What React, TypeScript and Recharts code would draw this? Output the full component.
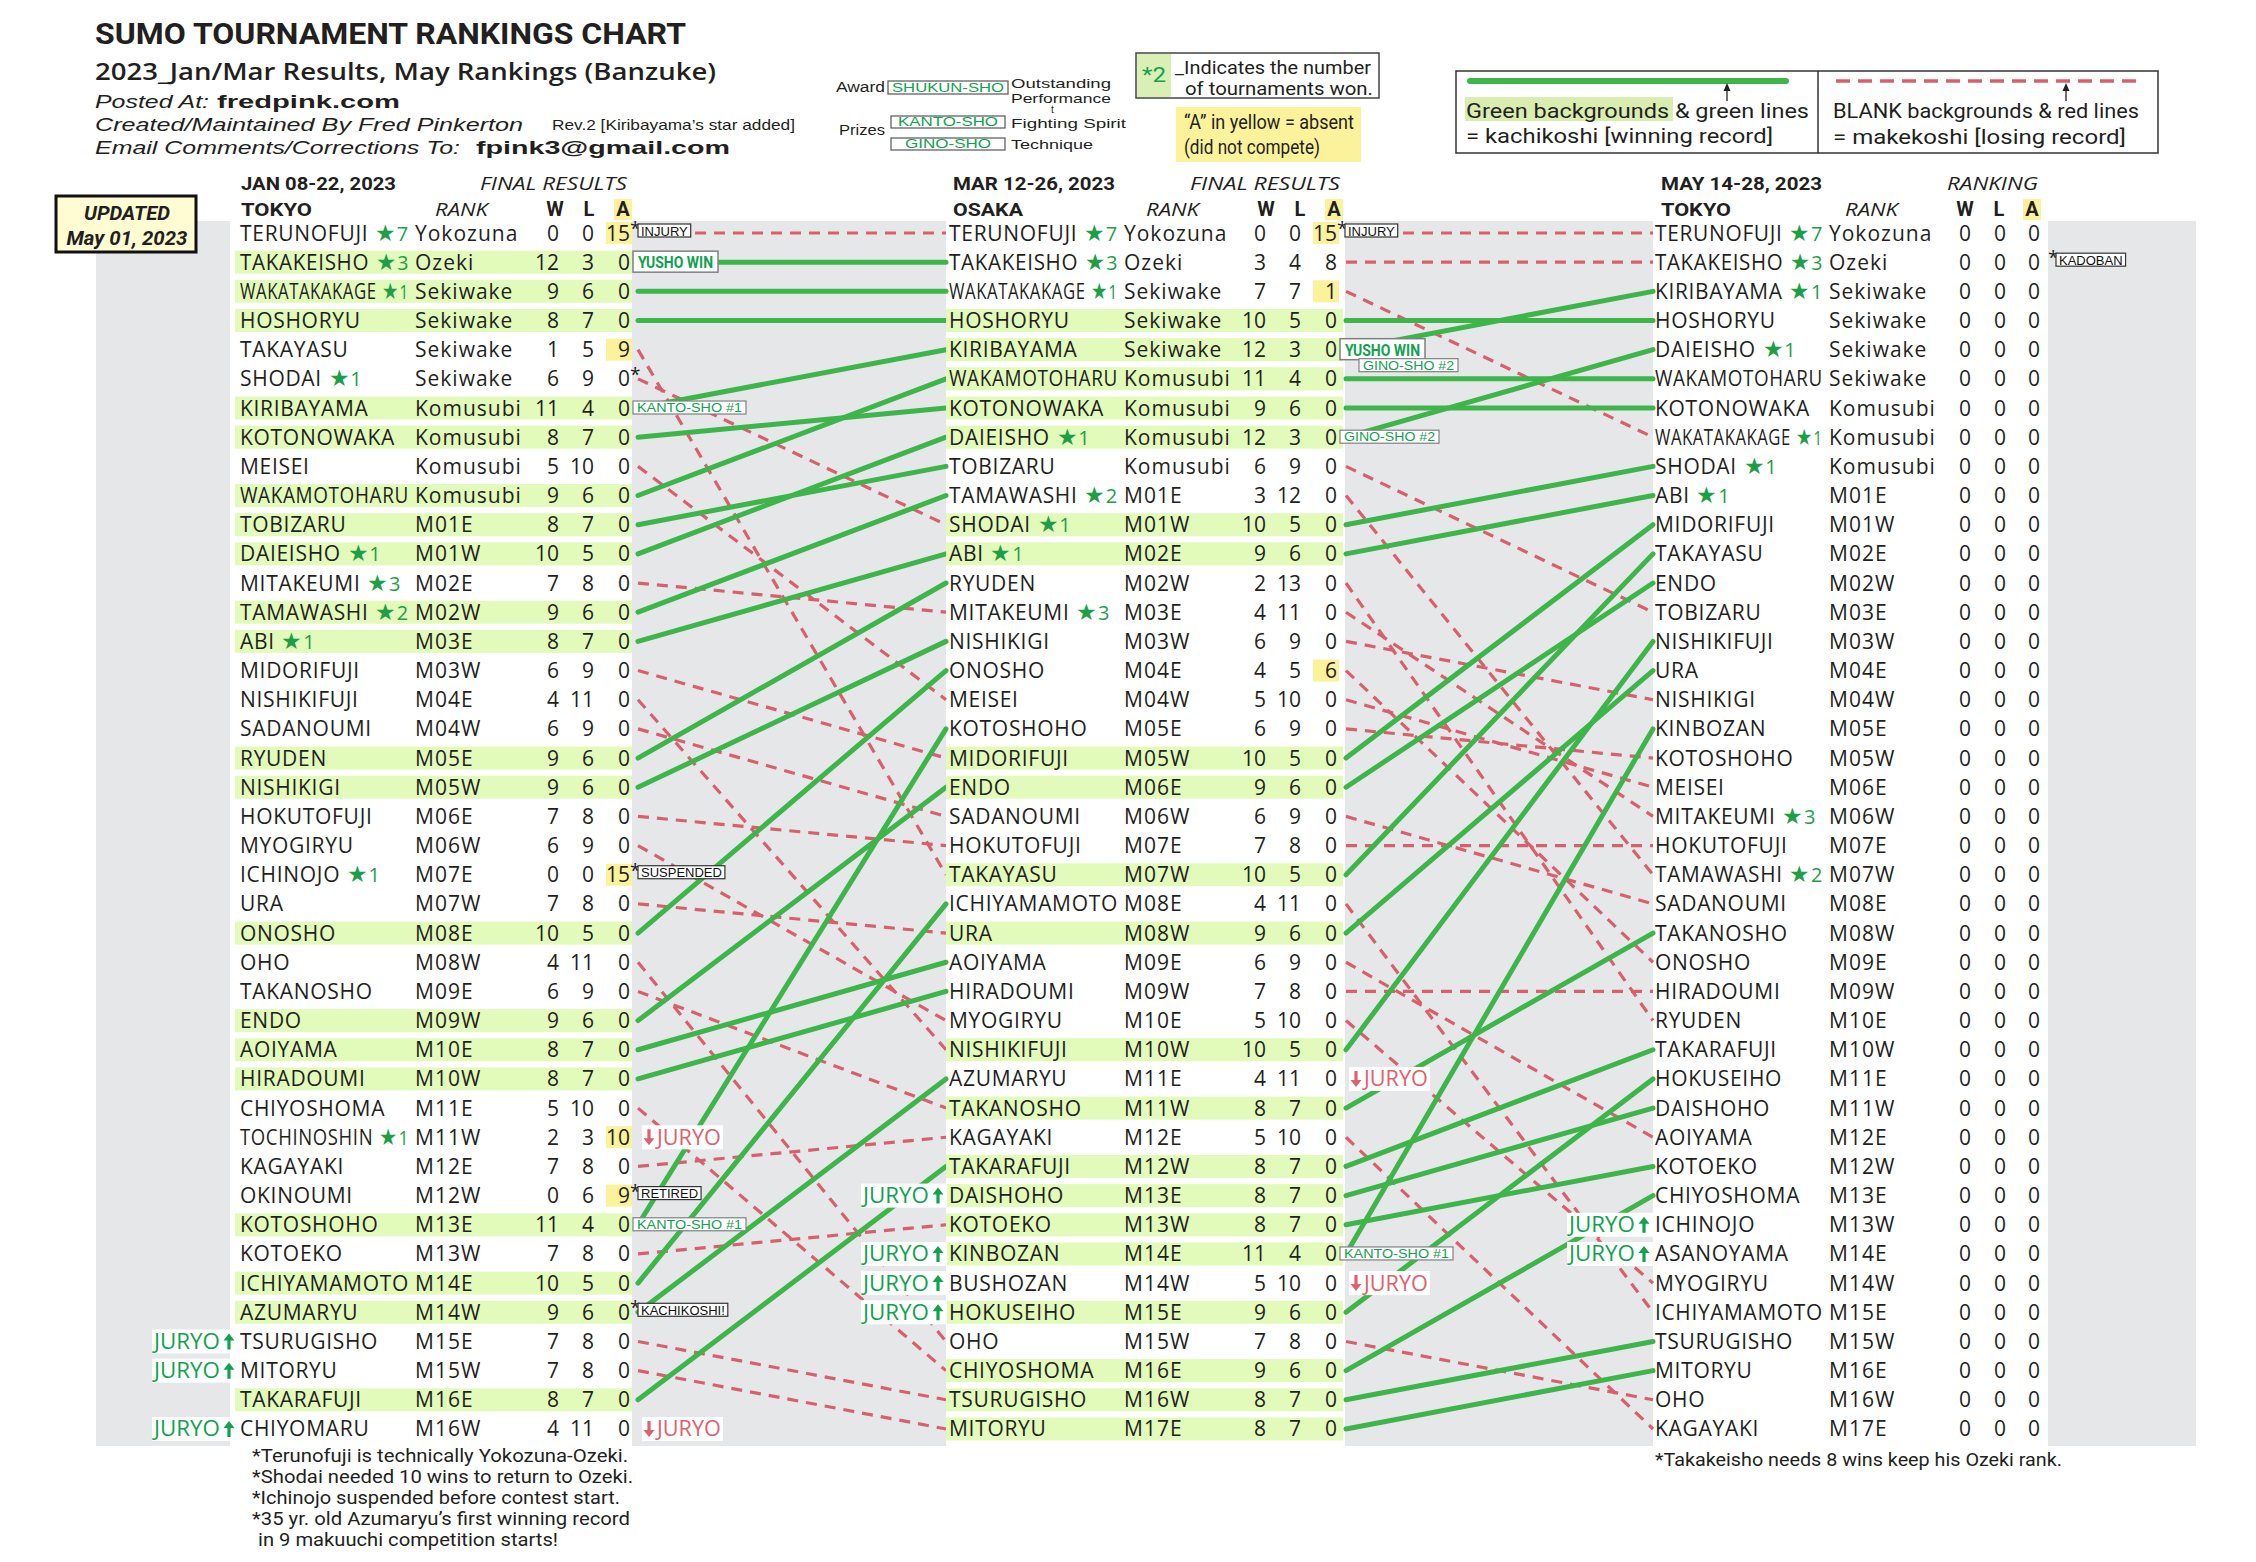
import React from "react";
import { ComposedChart, XAxis, YAxis, Line, Scatter } from "recharts";

const CHART_W = 2256;
const CHART_H = 1562;

// ---- JAN 08-22, 2023 (Tokyo) final results ----
const janNames = [
  "TERUNOFUJI", "TAKAKEISHO", "WAKATAKAKAGE", "HOSHORYU", "TAKAYASU", "SHODAI", "KIRIBAYAMA",
  "KOTONOWAKA", "MEISEI", "WAKAMOTOHARU", "TOBIZARU", "DAIEISHO", "MITAKEUMI", "TAMAWASHI",
  "ABI", "MIDORIFUJI", "NISHIKIFUJI", "SADANOUMI", "RYUDEN", "NISHIKIGI", "HOKUTOFUJI",
  "MYOGIRYU", "ICHINOJO", "URA", "ONOSHO", "OHO", "TAKANOSHO", "ENDO", "AOIYAMA", "HIRADOUMI",
  "CHIYOSHOMA", "TOCHINOSHIN", "KAGAYAKI", "OKINOUMI", "KOTOSHOHO", "KOTOEKO", "ICHIYAMAMOTO",
  "AZUMARYU", "TSURUGISHO", "MITORYU", "TAKARAFUJI", "CHIYOMARU",
];
const janRanks = [
  "Yokozuna", "Ozeki", "Sekiwake", "Sekiwake", "Sekiwake", "Sekiwake", "Komusubi", "Komusubi",
  "Komusubi", "Komusubi", "M01E", "M01W", "M02E", "M02W", "M03E", "M03W", "M04E", "M04W", "M05E",
  "M05W", "M06E", "M06W", "M07E", "M07W", "M08E", "M08W", "M09E", "M09W", "M10E", "M10W", "M11E",
  "M11W", "M12E", "M12W", "M13E", "M13W", "M14E", "M14W", "M15E", "M15W", "M16E", "M16W",
];
const janWins = [0, 12, 9, 8, 1, 6, 11, 8, 5, 9, 8, 10, 7, 9, 8, 6, 4, 6, 9, 9, 7, 6, 0, 7, 10, 4, 6, 9, 8, 8, 5, 2, 7, 0, 11, 7, 10, 9, 7, 7, 8, 4];
const janLosses = [0, 3, 6, 7, 5, 9, 4, 7, 10, 6, 7, 5, 8, 6, 7, 9, 11, 9, 6, 6, 8, 9, 0, 8, 5, 11, 9, 6, 7, 7, 10, 3, 8, 6, 4, 8, 5, 6, 8, 8, 7, 11];
const janAbsent = [15, 0, 0, 0, 9, 0, 0, 0, 0, 0, 0, 0, 0, 0, 0, 0, 0, 0, 0, 0, 0, 0, 15, 0, 0, 0, 0, 0, 0, 0, 0, 10, 0, 9, 0, 0, 0, 0, 0, 0, 0, 0];
const janStars: Record<string, number> = { TERUNOFUJI: 7, TAKAKEISHO: 3, WAKATAKAKAGE: 1, SHODAI: 1, DAIEISHO: 1, MITAKEUMI: 3, TAMAWASHI: 2, ABI: 1, ICHINOJO: 1, TOCHINOSHIN: 1 };
const janYellow = ["TERUNOFUJI", "TAKAYASU", "ICHINOJO", "TOCHINOSHIN", "OKINOUMI"];
const janAsterisk = ["TERUNOFUJI", "SHODAI", "ICHINOJO", "OKINOUMI", "AZUMARYU"];
const janTags: Record<string, string[]> = {
  TERUNOFUJI: ["INJURY"], TAKAKEISHO: ["YUSHO WIN"], KIRIBAYAMA: ["KANTO-SHO #1"], ICHINOJO: ["SUSPENDED"],
  TOCHINOSHIN: ["DOWN"], OKINOUMI: ["RETIRED"], KOTOSHOHO: ["KANTO-SHO #1"], AZUMARYU: ["KACHIKOSHI!"], CHIYOMARU: ["DOWN"],
};
const janUp = ["TSURUGISHO", "MITORYU", "CHIYOMARU"];

// ---- MAR 12-26, 2023 (Osaka) final results ----
const marNames = [
  "TERUNOFUJI", "TAKAKEISHO", "WAKATAKAKAGE", "HOSHORYU", "KIRIBAYAMA", "WAKAMOTOHARU", "KOTONOWAKA",
  "DAIEISHO", "TOBIZARU", "TAMAWASHI", "SHODAI", "ABI", "RYUDEN", "MITAKEUMI", "NISHIKIGI", "ONOSHO",
  "MEISEI", "KOTOSHOHO", "MIDORIFUJI", "ENDO", "SADANOUMI", "HOKUTOFUJI", "TAKAYASU", "ICHIYAMAMOTO",
  "URA", "AOIYAMA", "HIRADOUMI", "MYOGIRYU", "NISHIKIFUJI", "AZUMARYU", "TAKANOSHO", "KAGAYAKI",
  "TAKARAFUJI", "DAISHOHO", "KOTOEKO", "KINBOZAN", "BUSHOZAN", "HOKUSEIHO", "OHO", "CHIYOSHOMA",
  "TSURUGISHO", "MITORYU",
];
const marRanks = [
  "Yokozuna", "Ozeki", "Sekiwake", "Sekiwake", "Sekiwake", "Komusubi", "Komusubi", "Komusubi", "Komusubi",
  "M01E", "M01W", "M02E", "M02W", "M03E", "M03W", "M04E", "M04W", "M05E", "M05W", "M06E", "M06W", "M07E",
  "M07W", "M08E", "M08W", "M09E", "M09W", "M10E", "M10W", "M11E", "M11W", "M12E", "M12W", "M13E", "M13W",
  "M14E", "M14W", "M15E", "M15W", "M16E", "M16W", "M17E",
];
const marWins = [0, 3, 7, 10, 12, 11, 9, 12, 6, 3, 10, 9, 2, 4, 6, 4, 5, 6, 10, 9, 6, 7, 10, 4, 9, 6, 7, 5, 10, 4, 8, 5, 8, 8, 8, 11, 5, 9, 7, 9, 8, 8];
const marLosses = [0, 4, 7, 5, 3, 4, 6, 3, 9, 12, 5, 6, 13, 11, 9, 5, 10, 9, 5, 6, 9, 8, 5, 11, 6, 9, 8, 10, 5, 11, 7, 10, 7, 7, 7, 4, 10, 6, 8, 6, 7, 7];
const marAbsent = [15, 8, 1, 0, 0, 0, 0, 0, 0, 0, 0, 0, 0, 0, 0, 6, 0, 0, 0, 0, 0, 0, 0, 0, 0, 0, 0, 0, 0, 0, 0, 0, 0, 0, 0, 0, 0, 0, 0, 0, 0, 0];
const marStars: Record<string, number> = { TERUNOFUJI: 7, TAKAKEISHO: 3, WAKATAKAKAGE: 1, DAIEISHO: 1, TAMAWASHI: 2, SHODAI: 1, ABI: 1, MITAKEUMI: 3 };
const marYellow = ["TERUNOFUJI", "WAKATAKAKAGE", "ONOSHO"];
const marAsterisk = ["TERUNOFUJI"];
const marTags: Record<string, string[]> = {
  TERUNOFUJI: ["INJURY"], KIRIBAYAMA: ["YUSHO WIN", "GINO-SHO #2"], DAIEISHO: ["GINO-SHO #2"],
  AZUMARYU: ["DOWN"], KINBOZAN: ["KANTO-SHO #1"], BUSHOZAN: ["DOWN"],
};
const marUp = ["DAISHOHO", "KINBOZAN", "BUSHOZAN", "HOKUSEIHO"];

// ---- MAY 14-28, 2023 (Tokyo) ranking ----
const mayNames = [
  "TERUNOFUJI", "TAKAKEISHO", "KIRIBAYAMA", "HOSHORYU", "DAIEISHO", "WAKAMOTOHARU", "KOTONOWAKA",
  "WAKATAKAKAGE", "SHODAI", "ABI", "MIDORIFUJI", "TAKAYASU", "ENDO", "TOBIZARU", "NISHIKIFUJI", "URA",
  "NISHIKIGI", "KINBOZAN", "KOTOSHOHO", "MEISEI", "MITAKEUMI", "HOKUTOFUJI", "TAMAWASHI", "SADANOUMI",
  "TAKANOSHO", "ONOSHO", "HIRADOUMI", "RYUDEN", "TAKARAFUJI", "HOKUSEIHO", "DAISHOHO", "AOIYAMA",
  "KOTOEKO", "CHIYOSHOMA", "ICHINOJO", "ASANOYAMA", "MYOGIRYU", "ICHIYAMAMOTO", "TSURUGISHO", "MITORYU",
  "OHO", "KAGAYAKI",
];
const mayRanks = [
  "Yokozuna", "Ozeki", "Sekiwake", "Sekiwake", "Sekiwake", "Sekiwake", "Komusubi", "Komusubi", "Komusubi",
  "M01E", "M01W", "M02E", "M02W", "M03E", "M03W", "M04E", "M04W", "M05E", "M05W", "M06E", "M06W", "M07E",
  "M07W", "M08E", "M08W", "M09E", "M09W", "M10E", "M10W", "M11E", "M11W", "M12E", "M12W", "M13E", "M13W",
  "M14E", "M14W", "M15E", "M15W", "M16E", "M16W", "M17E",
];
const mayWins = mayNames.map(() => 0);
const mayLosses = mayNames.map(() => 0);
const mayAbsent = mayNames.map(() => 0);
const mayStars: Record<string, number> = { TERUNOFUJI: 7, TAKAKEISHO: 3, KIRIBAYAMA: 1, DAIEISHO: 1, WAKATAKAKAGE: 1, SHODAI: 1, ABI: 1, MITAKEUMI: 3, TAMAWASHI: 2 };
const mayAsterisk = ["TAKAKEISHO"];
const mayTags: Record<string, string[]> = { TAKAKEISHO: ["KADOBAN"] };
const mayUp = ["ICHINOJO", "ASANOYAMA"];

const janNotes = [
  "*Terunofuji is technically Yokozuna-Ozeki.",
  "*Shodai needed 10 wins to return to Ozeki.",
  "*Ichinojo suspended before contest start.",
  "*35 yr. old Azumaryu’s first winning record",
  " in 9 makuuchi competition starts!",
];
const mayNote = "*Takakeisho needs 8 wins keep his Ozeki rank.";

// ---- styling / layout ----
const SANS = "'Open Sans', sans-serif";
const COND = "Roboto, sans-serif";
const LIB = "'Liberation Sans', Arial, sans-serif";
const TEXT = "#231f20";
const GREY = "#e6e7e8";
const BAND = "#e2fbbb";
const YELLOW = "#fdf29c";
const GREEN_LINE = "#3db54a";
const RED_LINE = "#d7606c";
const STAR = "#1f9e48";
const TAG_GREEN = "#12a150";
const RED_TEXT = "#e0606e";

const ROW_TOP = 233;
const ROW_H = 29.17;
const Y_DOMAIN: [number, number] = [1 - ROW_TOP / ROW_H, 1 - ROW_TOP / ROW_H + CHART_H / ROW_H];

type ColKey = "jan" | "mar" | "may";
const COLS: Record<ColKey, any> = {
  jan: { left: 230, right: 632, bandL: 235, bandR: 632, nameX: 240, rankX: 415, wEnd: 559, lEnd: 594, aEnd: 630, lineStart: 638 },
  mar: { left: 946, right: 1345, bandL: 946, bandR: 1343, nameX: 949, rankX: 1124, wEnd: 1266, lEnd: 1301, aEnd: 1337, lineStart: 1346 },
  may: { left: 1653, right: 2048, bandL: 1653, bandR: 2048, nameX: 1655, rankX: 1829, wEnd: 1971, lEnd: 2006, aEnd: 2040, lineStart: 0 },
};

const NAME_FS = 21;
const NAME_LS = 0.7;
const STAR_FS = 23;
const DIGIT_FS = 20;

// real text widths, measured with a canvas using the same installed font
let measureCtx: CanvasRenderingContext2D | null = null;
function measure(text: string, fs: number, family = SANS) {
  if (!measureCtx) measureCtx = document.createElement("canvas").getContext("2d");
  if (!measureCtx) return text.length * fs * 0.6;
  measureCtx.font = `${fs}px ${family}`;
  return measureCtx.measureText(text).width;
}

function buildRows(key: ColKey, names: string[], ranks: string[], wins: number[], losses: number[], absent: number[],
  stars: Record<string, number>, yellow: string[], asterisk: string[], tags: Record<string, string[]>, up: string[]) {
  return names.map((name, i) => ({
    x: COLS[key].nameX,
    y: i + 1,
    name,
    rank: ranks[i],
    w: wins[i],
    l: losses[i],
    a: absent[i],
    star: stars[name] || 0,
    green: wins[i] >= 8,
    yellow: yellow.includes(name),
    asterisk: asterisk.includes(name),
    tags: tags[name] || [],
    up: up.includes(name),
  }));
}

const janRows = buildRows("jan", janNames, janRanks, janWins, janLosses, janAbsent, janStars, janYellow, janAsterisk, janTags, janUp);
const marRows = buildRows("mar", marNames, marRanks, marWins, marLosses, marAbsent, marStars, marYellow, marAsterisk, marTags, marUp);
const mayRows = buildRows("may", mayNames, mayRanks, mayWins, mayLosses, mayAbsent, mayStars, [], mayAsterisk, mayTags, mayUp);

function buildLinks(fromKey: ColKey, fromNames: string[], fromWins: number[], toKey: ColKey, toNames: string[]) {
  const out: { id: string; win: boolean; pts: { x: number; y: number }[] }[] = [];
  fromNames.forEach((n, i) => {
    const j = toNames.indexOf(n);
    if (j < 0) return;
    out.push({
      id: `${fromKey}-${n}`,
      win: fromWins[i] >= 8,
      pts: [{ x: COLS[fromKey].lineStart, y: i + 1 }, { x: COLS[toKey].left, y: j + 1 }],
    });
  });
  return out;
}

const links = [
  ...buildLinks("jan", janNames, janWins, "mar", marNames),
  ...buildLinks("mar", marNames, marWins, "may", mayNames),
];

// bold arrow glyph drawn as a path (up or down), centred on (x, cy)
const Arrow = ({ x, cy, dir, color }: any) => {
  const s = dir === "up" ? -1 : 1;
  const tip = cy + s * 8;
  const base = cy - s * 8;
  const shoulder = cy + s * 1;
  return (
    <path
      d={`M${x - 1.6},${base} L${x + 1.6},${base} L${x + 1.6},${shoulder} L${x + 5.5},${shoulder} L${x},${tip} L${x - 5.5},${shoulder} L${x - 1.6},${shoulder} Z`}
      fill={color}
    />
  );
};

function renderTag(t: string, k: number, X: (v: number) => number, c: any, cy: number, boxX: number) {
  const a = X(c.aEnd);
  if (t === "YUSHO WIN") {
    return (
      <g key={t}>
        <rect x={a + 3} y={cy - 11} width={85} height={21} fill="#fff" stroke="#808080" strokeWidth={1.5} />
        <text x={a + 8} y={cy + 6} fontFamily={COND} fontWeight={700} fontSize={17} fill={TAG_GREEN} textLength={75} lengthAdjust="spacingAndGlyphs">{t}</text>
      </g>
    );
  }
  if (t.startsWith("KANTO") || t.startsWith("GINO")) {
    const w = t.startsWith("KANTO") ? 113 : 99;
    const x = k === 0 ? a + 3 : a + 22;
    const y = k === 0 ? cy - 7 : cy + 9;
    return (
      <g key={t}>
        <rect x={x} y={y} width={w} height={13} fill="#fff" stroke="#808080" strokeWidth={1.2} />
        <text x={x + 4} y={y + 11} fontFamily={LIB} fontSize={12} fill={TAG_GREEN} textLength={w - 8} lengthAdjust="spacingAndGlyphs">{t}</text>
      </g>
    );
  }
  if (t === "DOWN") {
    return (
      <g key={t}>
        <rect x={a + 12} y={cy - 12} width={81} height={24} fill="#fff" />
        <Arrow x={a + 19} cy={cy} dir="down" color={RED_TEXT} />
        <text x={a + 27} y={cy + 7.5} fontFamily={SANS} fontSize={21} fill={RED_TEXT} textLength={64} lengthAdjust="spacingAndGlyphs">JURYO</text>
      </g>
    );
  }
  const w = measure(t, 13, LIB) + 6;
  return (
    <g key={t}>
      <rect x={boxX} y={cy - 9} width={w} height={13} fill="#fff" stroke="#333" strokeWidth={1.2} />
      <text x={boxX + 3} y={cy + 2.5} fontFamily={LIB} fontSize={13} fill="#111">{t}</text>
    </g>
  );
}

const rowShape = (key: ColKey) => (props: any) => {
  const { cx, cy } = props;
  const r = props.payload ?? props;
  const c = COLS[key];
  const X = (v: number) => cx + (v - c.nameX);
  const limit = c.rankX - c.nameX - 6;
  const digits = r.star ? String(r.star) : "";
  const natural = measure(r.name, NAME_FS) + NAME_LS * r.name.length
    + (r.star ? measure(" \u2605", STAR_FS) + measure(digits, DIGIT_FS) + NAME_LS * 3 : 0);
  // long names are condensed horizontally, as in the original sheet
  const k = natural > limit ? limit / natural : 1;
  const astX = X(c.aEnd) + (key === "may" ? 8 : 0);
  const boxX = r.asterisk ? astX + 8 : X(c.aEnd) + 7;
  return (
    <g>
      {r.green && <rect x={X(c.bandL)} y={cy - 11.5} width={c.bandR - c.bandL} height={23} fill={BAND} />}
      {r.yellow && <rect x={X(c.aEnd) - 24} y={cy - 11} width={26} height={22} fill={YELLOW} />}
      {r.up && (
        <g>
          <rect x={X(c.nameX) - 88} y={cy - 12} width={86} height={24} fill="#fff" />
          <text x={X(c.nameX) - 86} y={cy + 7.5} fontFamily={SANS} fontSize={21} fill={TAG_GREEN} textLength={66} lengthAdjust="spacingAndGlyphs">JURYO</text>
          <Arrow x={X(c.nameX) - 11} cy={cy} dir="up" color={TAG_GREEN} />
        </g>
      )}
      <text transform={`translate(${X(c.nameX)},${cy + 7.5}) scale(${k},1)`} fontFamily={SANS} fontSize={NAME_FS} letterSpacing={NAME_LS} fill={TEXT}>
        {r.name}
        {r.star ? (
          <tspan fill={STAR}>
            <tspan fontSize={STAR_FS}>{" \u2605"}</tspan>
            <tspan fontSize={DIGIT_FS}>{digits}</tspan>
          </tspan>
        ) : null}
      </text>
      <text x={X(c.rankX)} y={cy + 7.5} fontFamily={SANS} fontSize={21} letterSpacing={1} fill={TEXT}>{r.rank}</text>
      <text x={X(c.wEnd)} y={cy + 7.5} fontFamily={SANS} fontSize={21} textAnchor="end" fill={TEXT}>{r.w}</text>
      <text x={X(c.lEnd)} y={cy + 7.5} fontFamily={SANS} fontSize={21} textAnchor="end" fill={TEXT}>{r.l}</text>
      <text x={X(c.aEnd)} y={cy + 7.5} fontFamily={SANS} fontSize={21} textAnchor="end" fill={TEXT}>{r.a}</text>
      {r.asterisk && <text x={astX} y={cy + 2} fontFamily={SANS} fontSize={19} fill={TEXT}>*</text>}
      {r.tags.map((t: string, i: number) => renderTag(t, i, X, c, cy, boxX))}
    </g>
  );
};

const T = (p: any) => {
  const { children, w, ...rest } = p;
  return (
    <text fill={TEXT} fontFamily={SANS} {...(w ? { textLength: w, lengthAdjust: "spacingAndGlyphs" } : {})} {...rest}>
      {children}
    </text>
  );
};

const ColHeader = ({ x, title, sub, subX, subW, city, cityW, titleW, rankX, w, l, a }: any) => (
  <g>
    <T x={x} y={190} fontFamily={COND} fontWeight={700} fontSize={19} w={titleW}>{title}</T>
    <T x={subX} y={190} fontStyle="italic" fontSize={18} w={subW}>{sub}</T>
    <T x={x} y={216} fontFamily={COND} fontWeight={700} fontSize={19} w={cityW}>{city}</T>
    <T x={rankX} y={216} fontStyle="italic" fontSize={18} w={53}>RANK</T>
    <T x={w} y={216} fontFamily={COND} fontWeight={700} fontSize={20} textAnchor="middle">W</T>
    <T x={l} y={216} fontFamily={COND} fontWeight={700} fontSize={20} textAnchor="middle">L</T>
    <rect x={a - 9} y={199} width={18} height={21} fill={YELLOW} />
    <T x={a} y={216} fontFamily={COND} fontWeight={700} fontSize={20} textAnchor="middle">A</T>
  </g>
);

const Backdrop = () => (
  <svg width={CHART_W} height={CHART_H} style={{ position: "absolute", left: 0, top: 0 }}>
    <rect x={96} y={221} width={2100} height={1225} fill={GREY} />
    <rect x={230} y={221} width={402} height={1225} fill="#fff" />
    <rect x={946} y={221} width={399} height={1225} fill="#fff" />
    <rect x={1653} y={221} width={395} height={1225} fill="#fff" />

    <T x={95} y={44} fontFamily={COND} fontWeight={700} fontSize={29} w={591}>SUMO TOURNAMENT RANKINGS CHART</T>
    <T x={95} y={80} fontWeight={600} fontSize={23} w={621}>2023_Jan/Mar Results, May Rankings (Banzuke)</T>
    <T x={95} y={108} fontFamily={LIB} fontStyle="italic" fontSize={19} w={114}>Posted At:</T>
    <T x={217} y={108} fontFamily={LIB} fontWeight={700} fontSize={19} w={183}>fredpink.com</T>
    <T x={95} y={131} fontFamily={LIB} fontStyle="italic" fontSize={19} w={428}>Created/Maintained By Fred Pinkerton</T>
    <T x={552} y={130} fontFamily={LIB} fontSize={15} w={243}>Rev.2 [Kiribayama’s star  added]</T>
    <T x={95} y={154} fontFamily={LIB} fontStyle="italic" fontSize={19} w={365}>Email Comments/Corrections To:</T>
    <T x={476} y={154} fontFamily={LIB} fontWeight={700} fontSize={19} w={254}>fpink3@gmail.com</T>

    <T x={836} y={92} fontFamily={LIB} fontSize={14} w={49}>Award</T>
    <rect x={888} y={81} width={120} height={13} fill="#fff" stroke="#555" strokeWidth={1.2} />
    <T x={892} y={92} fontFamily={LIB} fontSize={12} fill={TAG_GREEN} w={112}>SHUKUN-SHO</T>
    <T x={1011} y={88} fontFamily={LIB} fontSize={13} w={100}>Outstanding</T>
    <T x={1011} y={103} fontFamily={LIB} fontSize={13} w={100}>Performance</T>
    <T x={839} y={135} fontFamily={LIB} fontSize={14} w={46}>Prizes</T>
    <rect x={891} y={116} width={114} height={12} fill="#fff" stroke="#555" strokeWidth={1.2} />
    <T x={898} y={126} fontFamily={LIB} fontSize={12} fill={TAG_GREEN} w={100}>KANTO-SHO</T>
    <T x={1051} y={113} fontFamily={LIB} fontSize={10}>t</T>
    <T x={1011} y={128} fontFamily={LIB} fontSize={13} w={115}>Fighting Spirit</T>
    <rect x={891} y={138} width={114} height={12} fill="#fff" stroke="#555" strokeWidth={1.2} />
    <T x={905} y={148} fontFamily={LIB} fontSize={12} fill={TAG_GREEN} w={86}>GINO-SHO</T>
    <T x={1011} y={149} fontFamily={LIB} fontSize={13} w={82}>Technique</T>

    <rect x={1136} y={53} width={243} height={45} fill="#fff" stroke="#444" strokeWidth={1.5} />
    <rect x={1137} y={54} width={34} height={43} fill="#d9efb3" />
    <T x={1142} y={82} fontFamily={COND} fontSize={21} fill={TAG_GREEN} w={24}>*2</T>
    <T x={1175} y={74} fontFamily={COND} fontSize={18} w={196}>_Indicates the number</T>
    <T x={1185} y={95} fontFamily={COND} fontSize={18} w={188}>of tournaments won.</T>
    <rect x={1176} y={107} width={185} height={55} fill={YELLOW} />
    <T x={1184} y={129} fontFamily={COND} fontSize={20} w={170}>“A” in yellow = absent</T>
    <T x={1184} y={154} fontFamily={COND} fontSize={20} w={136}>(did not compete)</T>

    <rect x={1456} y={71} width={702} height={82} fill="#fff" stroke="#333" strokeWidth={1.5} />
    <line x1={1818} y1={71} x2={1818} y2={153} stroke="#333" strokeWidth={1.5} />
    <line x1={1470} y1={81} x2={1786} y2={81} stroke={GREEN_LINE} strokeWidth={6} strokeLinecap="round" />
    <line x1={1727} y1={101} x2={1727} y2={88} stroke="#222" strokeWidth={1.3} />
    <polygon points="1727,83 1723.5,91 1730.5,91" fill="#222" />
    <rect x={1465} y={97} width={208} height={24} fill="#d9edb0" />
    <T x={1466} y={118} fontFamily={COND} fontSize={21} w={343}>Green backgrounds &amp; green lines</T>
    <T x={1466} y={143} fontFamily={COND} fontSize={21} w={307}>= kachikoshi [winning record]</T>
    <line x1={1836} y1={81} x2={2142} y2={81} stroke={RED_LINE} strokeWidth={3.5} strokeDasharray="14 8" />
    <line x1={2066} y1={101} x2={2066} y2={88} stroke="#222" strokeWidth={1.3} />
    <polygon points="2066,83 2062.5,91 2069.5,91" fill="#222" />
    <T x={1833} y={118} fontFamily={COND} fontSize={21} w={306}>BLANK backgrounds &amp; red lines</T>
    <T x={1833} y={144} fontFamily={COND} fontSize={21} w={293}>= makekoshi [losing  record]</T>

    <rect x={56} y={196} width={140} height={56} fill="#fffbd3" stroke="#111" strokeWidth={3} />
    <T x={127} y={220} fontFamily={COND} fontWeight={700} fontStyle="italic" fontSize={20} textAnchor="middle" w={86}>UPDATED</T>
    <T x={127} y={245} fontFamily={COND} fontWeight={700} fontStyle="italic" fontSize={20} textAnchor="middle" w={121}>May 01, 2023</T>

    <ColHeader x={241} title="JAN 08-22, 2023" titleW={155} sub="FINAL RESULTS" subX={480} subW={147} city="TOKYO" cityW={71} rankX={435} w={555} l={589} a={623} />
    <ColHeader x={953} title="MAR 12-26, 2023" titleW={162} sub="FINAL RESULTS" subX={1190} subW={150} city="OSAKA" cityW={70} rankX={1146} w={1266} l={1300} a={1334} />
    <ColHeader x={1661} title="MAY 14-28, 2023" titleW={161} sub="RANKING" subX={1947} subW={91} city="TOKYO" cityW={70} rankX={1845} w={1965} l={1999} a={2032} />

    {janNotes.map((n, i) => (
      <T key={n} x={i === 4 ? 258 : 252} y={1462 + i * 21} fontFamily={COND} fontSize={18} w={[376, 381, 368, 378, 300][i]}>{n}</T>
    ))}
    <T x={1655} y={1466} fontFamily={COND} fontSize={18} w={407}>{mayNote}</T>
  </svg>
);

export default function App() {
  return (
    <div style={{ position: "absolute", left: 0, top: 0, width: CHART_W, height: CHART_H, background: "#fff" }}>
      <Backdrop />
      <div style={{ position: "absolute", left: 0, top: 0 }}>
        <ComposedChart width={CHART_W} height={CHART_H} margin={{ top: 0, right: 0, bottom: 0, left: 0 }}>
          <XAxis type="number" dataKey="x" domain={[0, CHART_W]} hide allowDataOverflow />
          <YAxis type="number" dataKey="y" domain={Y_DOMAIN} reversed hide allowDataOverflow />
          {links.map((l) => (
            <Line
              key={l.id}
              data={l.pts}
              dataKey="y"
              type="linear"
              stroke={l.win ? GREEN_LINE : RED_LINE}
              strokeWidth={l.win ? 5 : 3.2}
              strokeDasharray={l.win ? undefined : "11 8"}
              strokeLinecap={l.win ? "round" : "butt"}
              dot={false}
              activeDot={false}
              isAnimationActive={false}
            />
          ))}
          <Scatter data={janRows} shape={rowShape("jan")} isAnimationActive={false} />
          <Scatter data={marRows} shape={rowShape("mar")} isAnimationActive={false} />
          <Scatter data={mayRows} shape={rowShape("may")} isAnimationActive={false} />
        </ComposedChart>
      </div>
    </div>
  );
}
